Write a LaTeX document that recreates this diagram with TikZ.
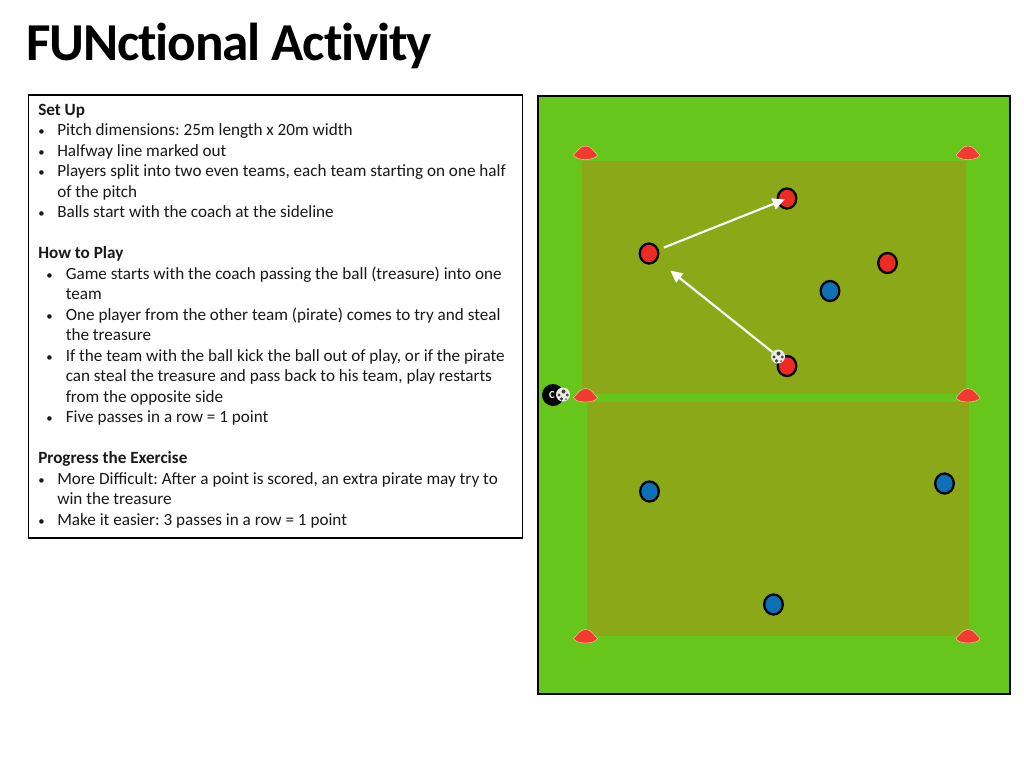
\documentclass[tikz,border=0pt]{standalone}
\usepackage{fontspec}
\setmainfont{Carlito}
\newfontfamily\titlefont[LetterSpace=-2.2,Ligatures=NoCommon]{Carlito}
\usetikzlibrary{arrows.meta,shapes.geometric}
\definecolor{grass}{HTML}{66C61C}
\definecolor{zone}{HTML}{8AA817}
\definecolor{conered}{HTML}{F23B30}
\definecolor{playerred}{HTML}{EE2A24}
\definecolor{playerblue}{HTML}{0F70B8}
\tikzset{
  x=0.75pt,y=-0.75pt,
  player/.style={ellipse,draw=black,line width=1.7pt,minimum width=14pt,minimum height=15pt,inner sep=0pt},
  redplayer/.style={player,fill=playerred},
  blueplayer/.style={player,fill=playerblue},
  txt/.style={anchor=base west,inner sep=0pt,font=\fontsize{12.85pt}{14pt}\selectfont\frenchspacing,text=black!90},
  hd/.style={txt,font=\fontsize{12.85pt}{14pt}\selectfont\frenchspacing\bfseries},
  bul/.style={anchor=base west,inner sep=0pt,font=\fontsize{9.5pt}{14pt}\selectfont,text=black!90},
  pass/.style={draw=white,line width=1.6pt,-{Triangle[length=9pt,width=8.5pt]}},
  ballnode/.style={circle,fill=white!92!black,inner sep=0pt,minimum size=10.5pt},
}
\newcommand{\conemark}[2]{%
  \fill[conered,draw=orange!35!white,line width=0.3pt] (#1-12,#2+2.5)
    .. controls (#1-8,#2-1) and (#1-6,#2-6.5) .. (#1,#2-6.5)
    .. controls (#1+6,#2-6.5) and (#1+8,#2-1) .. (#1+12,#2+2.5)
    .. controls (#1+10,#2+8.5) and (#1-10,#2+8.5) .. (#1-12,#2+2.5) -- cycle;}
\newcommand{\ballspots}[2]{%
  \fill[black!75] (#1+0.5,#2-3) circle (2);
  \fill[black!75] (#1-4,#2+0.5) circle (1.7);
  \fill[black!70] (#1+4.2,#2+0.5) circle (1.6);
  \fill[black!75] (#1-1.5,#2+4.4) circle (1.8);
  \fill[black!60] (#1+3,#2+4.6) circle (1.1);}
\begin{document}
\begin{tikzpicture}
\useasboundingbox (0,0) rectangle (1024,768);
\fill[white] (0,0) rectangle (1024,768);
% title
\node[anchor=base west,inner sep=0pt,font=\fontsize{40pt}{44pt}\selectfont\titlefont\bfseries,text=black] (title) at (26,60) {FUNctional Activity};
% text box
\node[draw=black,line width=1.15pt,fill=white,anchor=north west,minimum width=370.5pt,minimum height=332.5pt,inner sep=0pt] (box) at (27.8,94) {};
\begin{scope}[yshift=-0.4pt]
\node[hd] (t1) at (38,114.5) {Set Up};
\node[bul] (b2) at (38,135) {•}; \node[txt] (t2) at (57,135) {Pitch dimensions: 25m length x 20m width};
\node[bul] (b3) at (38,155.5) {•}; \node[txt] (t3) at (57,155.5) {Halfway line marked out};
\node[bul] (b4) at (38,176) {•}; \node[txt] (t4) at (57,176) {Players split into two even teams, each team starting on one half};
\node[txt] (t5) at (57,196.5) {of the pitch};
\node[bul] (b6) at (38,217) {•}; \node[txt] (t6) at (57,217) {Balls start with the coach at the sideline};
\node[hd] (t7) at (38,258) {How to Play};
\node[bul] (b8) at (46,278.5) {•}; \node[txt] (t8) at (65.5,278.5) {Game starts with the coach passing the ball (treasure) into one};
\node[txt] (t9) at (65.5,299) {team};
\node[bul] (b10) at (46,319.5) {•}; \node[txt] (t10) at (65.5,319.5) {One player from the other team (pirate) comes to try and steal};
\node[txt] (t11) at (65.5,340) {the treasure};
\node[bul] (b12) at (46,360.5) {•}; \node[txt] (t12) at (65.5,360.5) {If the team with the ball kick the ball out of play, or if the pirate};
\node[txt] (t13) at (65.5,381) {can steal the treasure and pass back to his team, play restarts};
\node[txt] (t14) at (65.5,401.5) {from the opposite side};
\node[bul] (b15) at (46,422) {•}; \node[txt] (t15) at (65.5,422) {Five passes in a row = 1 point};
\node[hd] (t16) at (38,463) {Progress the Exercise};
\node[bul] (b17) at (38,483.5) {•}; \node[txt] (t17) at (57,483.5) {More Difficult: After a point is scored, an extra pirate may try to};
\node[txt] (t18) at (57,504) {win the treasure};
\node[bul] (b19) at (38,524.5) {•}; \node[txt] (t19) at (57,524.5) {Make it easier: 3 passes in a row = 1 point};
\end{scope}
% pitch
\draw[draw=black,line width=2pt,fill=grass] (538,96) rectangle (1010,694);
\fill[zone] (582,161) rectangle (966,394);
\fill[zone] (587,402) rectangle (969,636);
% cones
\conemark{585.5}{152.5}\conemark{968}{152.5}
\conemark{585.5}{395}\conemark{968}{395}
\conemark{585.5}{636}\conemark{968}{636}
% players
\node[redplayer] (r1) at (787,198.5) {};
\node[redplayer] (r2) at (649,253.5) {};
\node[redplayer] (r3) at (887.5,263) {};
\node[redplayer] (r4) at (787,366) {};
\node[blueplayer] (u1) at (830,291) {};
\node[blueplayer] (u2) at (649.5,491.5) {};
\node[blueplayer] (u3) at (944.5,483.5) {};
\node[blueplayer] (u4) at (773.5,604.5) {};
% coach
\node[circle,fill=black,minimum size=16.5pt,inner sep=0pt] (coach) at (553,395) {};
\node[anchor=center,inner sep=0pt,text=white,font=\fontsize{8pt}{9pt}\selectfont\bfseries] (coachC) at (552,395) {C};
% balls
\node[ballnode] (ball1) at (778,356.5) {};
\ballspots{778}{356.5}
\node[ballnode] (ball2) at (563,394.5) {};
\ballspots{563}{394.5}
% passes
\draw[pass,shorten <=4pt,shorten >=-6pt] (r2) -- (r1);
\draw[pass,shorten <=0pt,shorten >=12.5pt] (ball1) -- (r2);
\end{tikzpicture}
\end{document}
